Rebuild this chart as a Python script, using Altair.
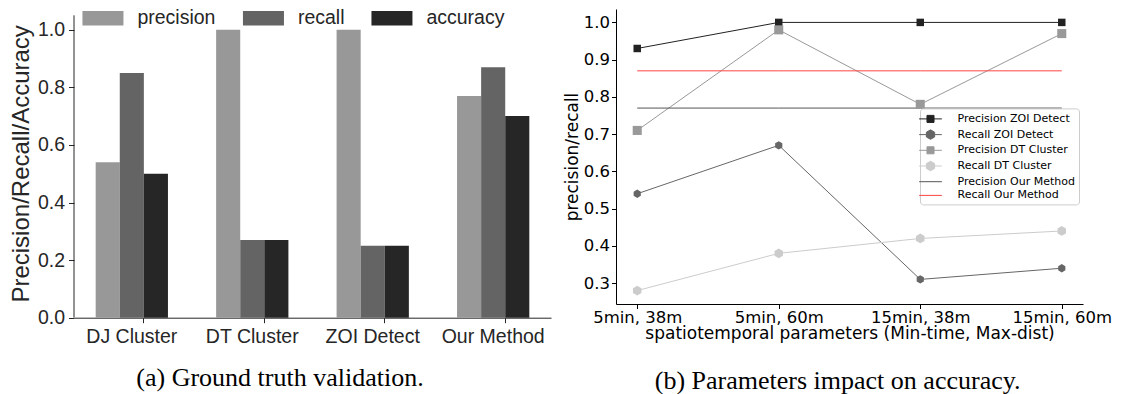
import altair as alt
import pandas as pd

# ---------------- Panel (a): ground truth validation ----------------
methods = ["DJ Cluster", "DT Cluster", "ZOI Detect", "Our Method"]
metrics = ["precision", "recall", "accuracy"]
precision_a = [0.54, 1.00, 1.00, 0.77]
recall_a = [0.85, 0.27, 0.25, 0.87]
accuracy_a = [0.50, 0.27, 0.25, 0.70]
bar_colors = ["#989898", "#646464", "#262626"]
ticks_a = [0.0, 0.2, 0.4, 0.6, 0.8, 1.0]
axis_extent_a = [0.0, 1.05]

# ---------------- Panel (b): parameters impact ----------------
params = ["5min, 38m", "5min, 60m", "15min, 38m", "15min, 60m"]
series_b = ["Precision ZOI Detect", "Recall ZOI Detect", "Precision DT Cluster",
            "Recall DT Cluster", "Precision Our Method", "Recall Our Method"]
prec_zoi = [0.93, 1.00, 1.00, 1.00]
rec_zoi = [0.54, 0.67, 0.31, 0.34]
prec_dt = [0.71, 0.98, 0.78, 0.97]
rec_dt = [0.28, 0.38, 0.42, 0.44]
prec_our = [0.77, 0.77, 0.77, 0.77]
rec_our = [0.87, 0.87, 0.87, 0.87]
line_colors = ["#222222", "#666666", "#999999", "#cccccc", "#555555", "#ff4545"]
line_widths = [1, 1, 1, 1, 2, 2]
marker_kind = ["square", "hexagon", "square", "hexagon", "none", "none"]
ticks_b = [0.3, 0.4, 0.5, 0.6, 0.7, 0.8, 0.9, 1.0]

# ---- tables ----
rows_a = []
for m, p, r, a in zip(methods, precision_a, recall_a, accuracy_a):
    for metric, v in zip(metrics, [p, r, a]):
        rows_a.append({"method": m, "metric": metric, "value": v})
df_a = pd.DataFrame(rows_a)
df_spine = pd.DataFrame({"y0": [axis_extent_a[0]], "y1": [axis_extent_a[1]]})

rows_b = []
for s, vals in zip(series_b, [prec_zoi, rec_zoi, prec_dt, rec_dt, prec_our, rec_our]):
    for p, v in zip(params, vals):
        rows_b.append({"series": s, "param": p, "value": v})
df_b = pd.DataFrame(rows_b)

marked = [s for s, k in zip(series_b, marker_kind) if k != "none"]
df_pts = df_b[df_b["series"].isin(marked)]

HEX = "M0,-1L0.866,-0.5L0.866,0.5L0,1L-0.866,0.5L-0.866,-0.5Z"
plot_shapes = {"square": "square", "hexagon": HEX}
legend_shapes = {
    "square": "M-2,0L2,0M-0.62,-0.62L0.62,-0.62L0.62,0.62L-0.62,0.62Z",
    "hexagon": "M-2,0L2,0M0,-0.84L0.727,-0.42L0.727,0.42L0,0.84L-0.727,0.42L-0.727,-0.42Z",
    "none": "M-2,0L2,0",
}

shape_expr = f"'{legend_shapes['none']}'"
fill_expr = "'transparent'"
for s, k, c in zip(series_b, marker_kind, line_colors):
    shape_expr = f"datum.value === '{s}' ? '{legend_shapes[k]}' : ({shape_expr})"
    if k != "none":
        fill_expr = f"datum.value === '{s}' ? '{c}' : ({fill_expr})"

SANS = "Liberation Sans"
DJV = "DejaVu Sans"
SERIF = "Liberation Serif"
TXT = "#262626"

bars = alt.Chart(df_a).mark_bar().encode(
    x=alt.X(
        "method:N", sort=methods,
        scale=alt.Scale(paddingInner=0.4, paddingOuter=0.18),
        axis=alt.Axis(title=None, labelAngle=0, bandPosition=0.667, tickSize=5,
                      tickColor=TXT, domainColor=TXT, labelColor=TXT,
                      labelFont=SANS, labelFontSize=19.5, labelPadding=5),
    ),
    xOffset=alt.XOffset("metric:N", sort=metrics,
                        scale=alt.Scale(paddingInner=0, paddingOuter=0)),
    y=alt.Y(
        "value:Q", scale=alt.Scale(domain=[0, 1.072], nice=False, zero=True),
        axis=alt.Axis(values=ticks_a, format=".1f", grid=False, tickSize=5.5,
                      domain=False,
                      tickColor=TXT, labelColor=TXT,
                      labelFont=SANS, labelFontSize=19.5, labelPadding=4,
                      title="Precision/Recall/Accuracy", titleFont=SANS,
                      titleFontSize=24, titleFontWeight="normal", titleColor=TXT,
                      titleX=-46, titleBaseline="alphabetic", titleAngle=270),
    ),
    color=alt.Color(
        "metric:N", sort=metrics,
        scale=alt.Scale(domain=metrics, range=bar_colors),
        legend=alt.Legend(title=None, orient="none", direction="horizontal",
                          legendX=19.2, legendY=-0.9,
                          symbolType="M-2.2,-0.77L2.2,-0.77L2.2,0.77L-2.2,0.77Z",
                          symbolSize=347.4, symbolStrokeWidth=0, symbolOpacity=1,
                          labelFont=SANS, labelFontSize=19.5, labelColor=TXT,
                          labelOffset=24.7, columnPadding=26.5, padding=0),
    ),
)

spine = alt.Chart(df_spine).mark_rule(color=TXT, strokeWidth=1).encode(
    x=alt.value(0),
    y=alt.Y("y0:Q"),
    y2="y1:Q",
)

left = alt.layer(bars, spine).properties(
    width=477, height=308.7,
    title=alt.Title("(a) Ground truth validation.", orient="bottom", font=SERIF,
                    fontSize=26, fontWeight="normal", color="black",
                    anchor="middle", frame="bounds", offset=19),
)

xb = alt.X(
    "param:N", sort=params,
    scale=alt.Scale(type="point", padding=0.15),
    axis=alt.Axis(title="spatiotemporal parameters (Min-time, Max-dist)",
                  labelAngle=0, tickSize=4.5, labelPadding=1,
                  tickColor="black", domainColor="black", labelColor="black",
                  labelFont=DJV, labelFontSize=16.5,
                  titleFont=DJV, titleFontSize=17, titleFontWeight="normal",
                  titleColor="black", titleBaseline="alphabetic", titleY=34),
)
yb = alt.Y(
    "value:Q", scale=alt.Scale(domain=[0.244, 1.036], nice=False, zero=False),
    axis=alt.Axis(values=ticks_b, format=".1f", grid=False, tickSize=4.5,
                  labelPadding=2, tickColor="black", domainColor="black",
                  labelColor="black", labelFont=DJV, labelFontSize=16.5,
                  title="precision/recall", titleFont=DJV, titleFontSize=17,
                  titleFontWeight="normal", titleColor="black",
                  titleX=-38.3, titleBaseline="alphabetic", titleAngle=270),
)

lines = alt.Chart(df_b).mark_line().encode(
    x=xb, y=yb,
    color=alt.Color(
        "series:N", sort=series_b,
        scale=alt.Scale(domain=series_b, range=line_colors),
        legend=alt.Legend(
            title=None, orient="none", legendX=304, legendY=99.4,
            direction="vertical", labelFont=DJV, labelFontSize=11,
            labelColor="black", symbolSize=128.8, symbolStrokeWidth=1,
            symbolType={"expr": shape_expr},
            symbolFillColor={"expr": fill_expr},
            labelOffset=20.5, rowPadding=1.7, padding=4,
            fillColor="rgba(255,255,255,0.8)", strokeColor="#cccccc",
            cornerRadius=3,
        ),
    ),
    strokeWidth=alt.StrokeWidth("series:N",
                                scale=alt.Scale(domain=series_b, range=line_widths),
                                legend=None),
)

points = alt.Chart(df_pts).mark_point(filled=True, opacity=1).encode(
    x=xb, y=yb,
    color=alt.Color("series:N", scale=alt.Scale(domain=series_b, range=line_colors),
                    legend=None),
    shape=alt.Shape("series:N",
                    scale=alt.Scale(domain=marked,
                                    range=[plot_shapes[k] for k in marker_kind if k != "none"]),
                    legend=None),
    size=alt.Size("series:N",
                  scale=alt.Scale(domain=marked, range=[56 if k == "square" else 95 for k in marker_kind if k != "none"]),
                  legend=None),
)

right = alt.layer(lines, points).resolve_scale(
    color="independent", shape="independent", size="independent"
).properties(
    width=467, height=295,
    title=alt.Title("(b) Parameters impact on accuracy.", orient="bottom", font=SERIF,
                    fontSize=26, fontWeight="normal", color="black",
                    anchor="middle", frame="bounds", offset=26.5),
)

chart = alt.hconcat(left, right, spacing=12).resolve_scale(
    color="independent", shape="independent", size="independent",
    strokeWidth="independent",
).properties(
    padding={"left": 0, "top": 0, "right": 0, "bottom": 0}
).configure_view(stroke=None)

chart.save("out.html", embed_options={"renderer": "svg", "actions": False})
